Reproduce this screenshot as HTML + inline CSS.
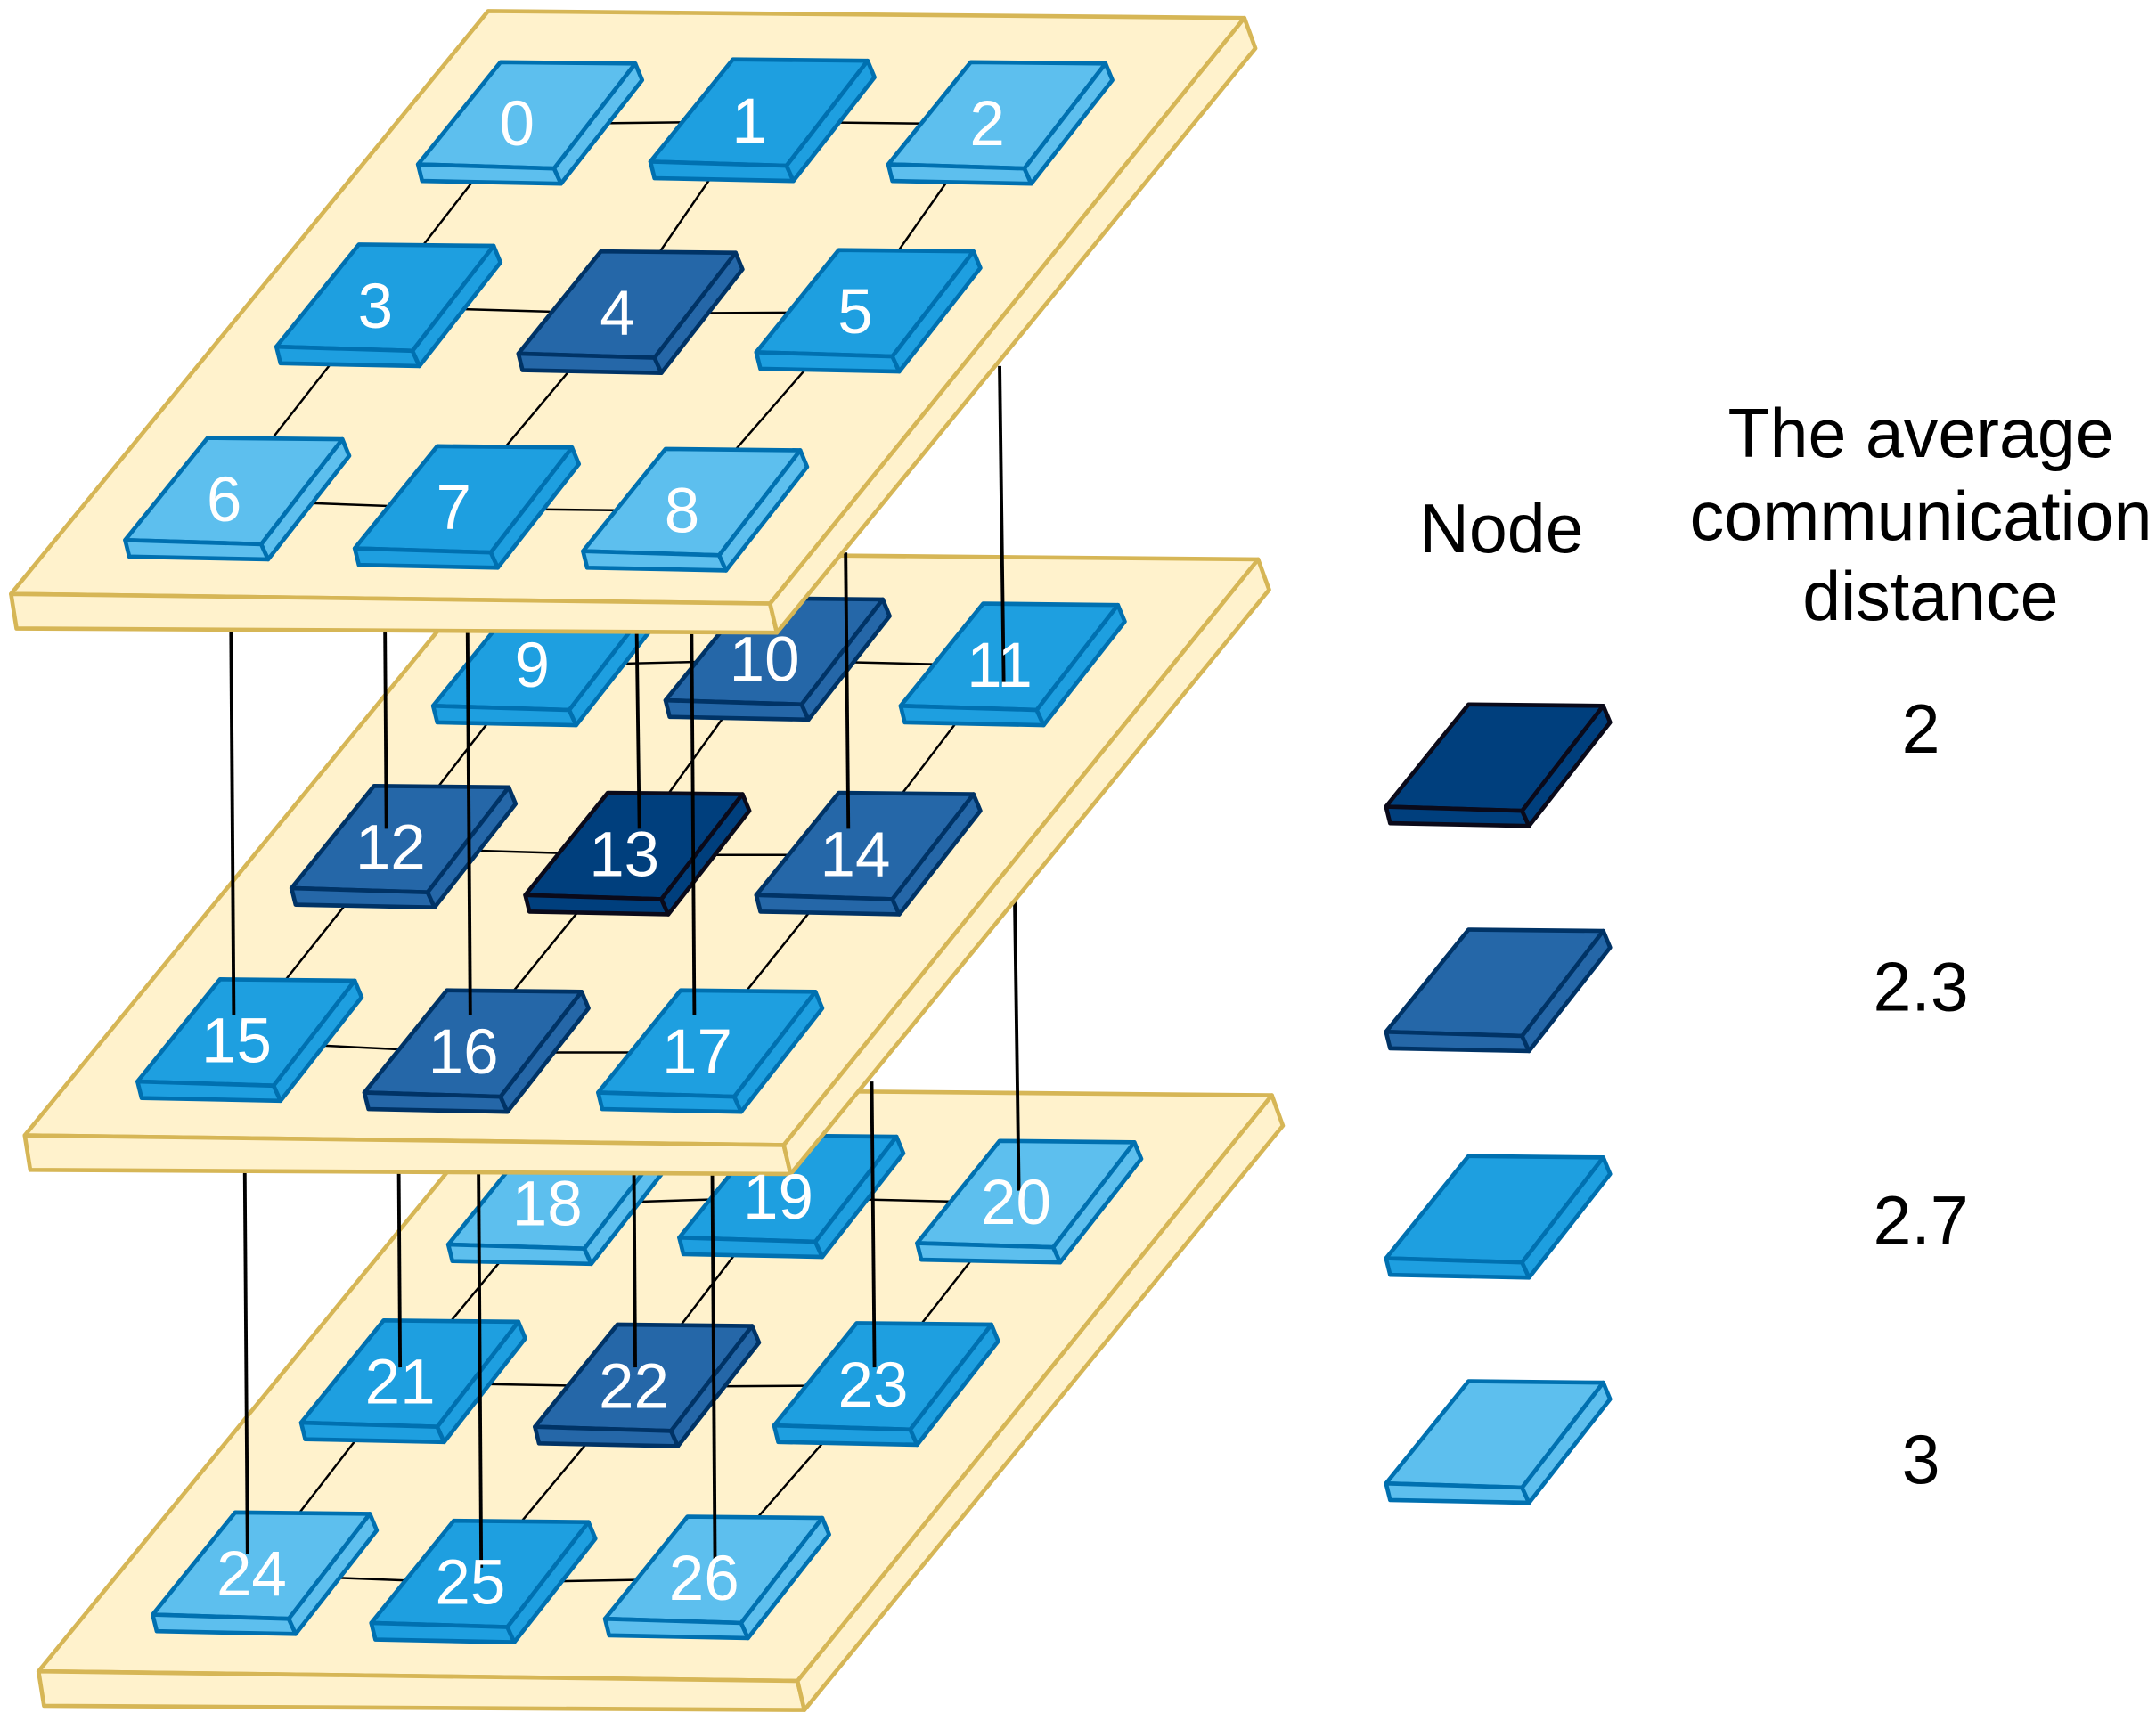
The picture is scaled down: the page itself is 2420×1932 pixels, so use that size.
<!DOCTYPE html>
<html><head><meta charset="utf-8"><style>
html,body{margin:0;padding:0;background:#fff;}
svg{display:block;}
text{font-family:"Liberation Sans",Arial,sans-serif;}
</style></head><body>
<svg width="2420" height="1932" viewBox="0 0 1568 1246" preserveAspectRatio="none" xmlns="http://www.w3.org/2000/svg">
<defs>
<g id="shape">
<polygon points="0,0 99,3 158,-73 60,-74"/>
<polygon points="0,0 99,3 104,14 3,12"/>
<polygon points="99,3 158,-73 163,-61 104,14"/>
</g>
<g id="L" fill="#5DBFEE" stroke="#0070B0" stroke-width="3" stroke-linejoin="round"><use href="#shape"/></g>
<g id="M" fill="#1E9FE0" stroke="#0070B0" stroke-width="3" stroke-linejoin="round"><use href="#shape"/></g>
<g id="D" fill="#2567A8" stroke="#003366" stroke-width="3" stroke-linejoin="round"><use href="#shape"/></g>
<g id="X" fill="#003F7D" stroke="#0a0a1a" stroke-width="3" stroke-linejoin="round"><use href="#shape"/></g>
<g id="plate" fill="#FFF2CC" stroke="#D6B656" stroke-width="3" stroke-linejoin="round">
<polygon points="355,8 905,13 560,437 8,430"/>
<polygon points="8,430 560,437 565,458 12,455"/>
<polygon points="905,13 913,35 565,458 560,437"/>
</g>
</defs>

<!-- bottom layer -->
<use href="#plate" transform="translate(20,780)"/>
<g stroke="#000" stroke-width="1.6">
<line x1="398" y1="872" x2="566" y2="867"/><line x1="566" y1="867" x2="739" y2="871"/>
<line x1="291" y1="1001" x2="461" y2="1004"/><line x1="461" y1="1004" x2="635" y2="1003"/>
<line x1="183" y1="1140" x2="342" y2="1146"/><line x1="342" y1="1146" x2="512" y2="1143"/>
<line x1="398" y1="872" x2="291" y2="1001"/><line x1="291" y1="1001" x2="183" y2="1140"/>
<line x1="566" y1="867" x2="461" y2="1004"/><line x1="461" y1="1004" x2="342" y2="1146"/>
<line x1="739" y1="871" x2="635" y2="1003"/><line x1="635" y1="1003" x2="512" y2="1143"/>
</g>
<use href="#L" x="326" y="901"/><use href="#M" x="494" y="896"/><use href="#L" x="667" y="900"/>
<use href="#M" x="219" y="1030"/><use href="#D" x="389" y="1033"/><use href="#M" x="563" y="1032"/>
<use href="#L" x="111" y="1169"/><use href="#M" x="270" y="1175"/><use href="#L" x="440" y="1172"/>
<g stroke="#000" stroke-width="2.5">
<line x1="178" y1="845" x2="180" y2="1125"/><line x1="290" y1="845" x2="291" y2="990"/>
<line x1="348" y1="845" x2="350" y2="1135"/><line x1="461" y1="845" x2="462" y2="990"/>
<line x1="518" y1="845" x2="520" y2="1130"/><line x1="634" y1="783" x2="636" y2="990"/>
<line x1="738" y1="652" x2="741" y2="862"/>
</g>

<!-- middle layer -->
<use href="#plate" transform="translate(10,392)"/>
<g stroke="#000" stroke-width="1.6">
<line x1="387" y1="482" x2="556" y2="478"/><line x1="556" y1="478" x2="727" y2="482"/>
<line x1="284" y1="614" x2="454" y2="619"/><line x1="454" y1="619" x2="622" y2="619"/>
<line x1="172" y1="754" x2="337" y2="762"/><line x1="337" y1="762" x2="507" y2="762"/>
<line x1="387" y1="482" x2="284" y2="614"/><line x1="284" y1="614" x2="172" y2="754"/>
<line x1="556" y1="478" x2="454" y2="619"/><line x1="454" y1="619" x2="337" y2="762"/>
<line x1="727" y1="482" x2="622" y2="619"/><line x1="622" y1="619" x2="507" y2="762"/>
</g>
<use href="#M" x="315" y="511"/><use href="#D" x="484" y="507"/><use href="#M" x="655" y="511"/>
<use href="#D" x="212" y="643"/><use href="#X" x="382" y="648"/><use href="#D" x="550" y="648"/>
<use href="#M" x="100" y="783"/><use href="#D" x="265" y="791"/><use href="#M" x="435" y="791"/>
<g stroke="#000" stroke-width="2.5">
<line x1="168" y1="455" x2="170" y2="735"/><line x1="280" y1="455" x2="281" y2="600"/>
<line x1="340" y1="455" x2="342" y2="735"/><line x1="463" y1="455" x2="465" y2="600"/>
<line x1="503" y1="455" x2="505" y2="735"/><line x1="615" y1="400" x2="617" y2="600"/>
<line x1="727" y1="265" x2="730" y2="495"/>
</g>

<!-- top layer -->
<use href="#plate"/>
<g stroke="#000" stroke-width="1.6">
<line x1="376" y1="90" x2="545" y2="88"/><line x1="545" y1="88" x2="718" y2="90"/>
<line x1="273" y1="222" x2="449" y2="227"/><line x1="449" y1="227" x2="622" y2="226"/>
<line x1="163" y1="362" x2="330" y2="368"/><line x1="330" y1="368" x2="496" y2="370"/>
<line x1="376" y1="90" x2="273" y2="222"/><line x1="273" y1="222" x2="163" y2="362"/>
<line x1="545" y1="88" x2="449" y2="227"/><line x1="449" y1="227" x2="330" y2="368"/>
<line x1="718" y1="90" x2="622" y2="226"/><line x1="622" y1="226" x2="496" y2="370"/>
</g>
<use href="#L" x="304" y="119"/><use href="#M" x="473" y="117"/><use href="#L" x="646" y="119"/>
<use href="#M" x="201" y="251"/><use href="#D" x="377" y="256"/><use href="#M" x="550" y="255"/>
<use href="#L" x="91" y="391"/><use href="#M" x="258" y="397"/><use href="#L" x="424" y="399"/>

<!-- labels -->
<g fill="#fff" font-size="46" text-anchor="middle" dominant-baseline="central">
<text x="376" y="90">0</text><text x="545" y="88">1</text><text x="718" y="90">2</text>
<text x="273" y="222">3</text><text x="449" y="227">4</text><text x="622" y="226">5</text>
<text x="163" y="362">6</text><text x="330" y="368">7</text><text x="496" y="370">8</text>
<text x="387" y="482">9</text><text x="556" y="478">10</text><text x="727" y="482">11</text>
<text x="284" y="614">12</text><text x="454" y="619">13</text><text x="622" y="619">14</text>
<text x="172" y="754">15</text><text x="337" y="762">16</text><text x="507" y="762">17</text>
<text x="398" y="872">18</text><text x="566" y="867">19</text><text x="739" y="871">20</text>
<text x="291" y="1001">21</text><text x="461" y="1004">22</text><text x="635" y="1003">23</text>
<text x="183" y="1140">24</text><text x="342" y="1146">25</text><text x="512" y="1143">26</text>
</g>

<!-- legend -->
<g transform="translate(1008,584)"><use href="#X"/></g>
<g transform="translate(1008,747)"><use href="#D"/></g>
<g transform="translate(1008,911)"><use href="#M"/></g>
<g transform="translate(1008,1074)"><use href="#L"/></g>
<g fill="#000" font-size="50" text-anchor="middle" dominant-baseline="central">
<text x="1092" y="383">Node</text>
<text x="1397" y="314">The average</text>
<text x="1397" y="374">communication</text>
<text x="1404" y="432">distance</text>
<text x="1397" y="528">2</text>
<text x="1397" y="715">2.3</text>
<text x="1397" y="884">2.7</text>
<text x="1397" y="1057">3</text>
</g>
</svg>
</body></html>
